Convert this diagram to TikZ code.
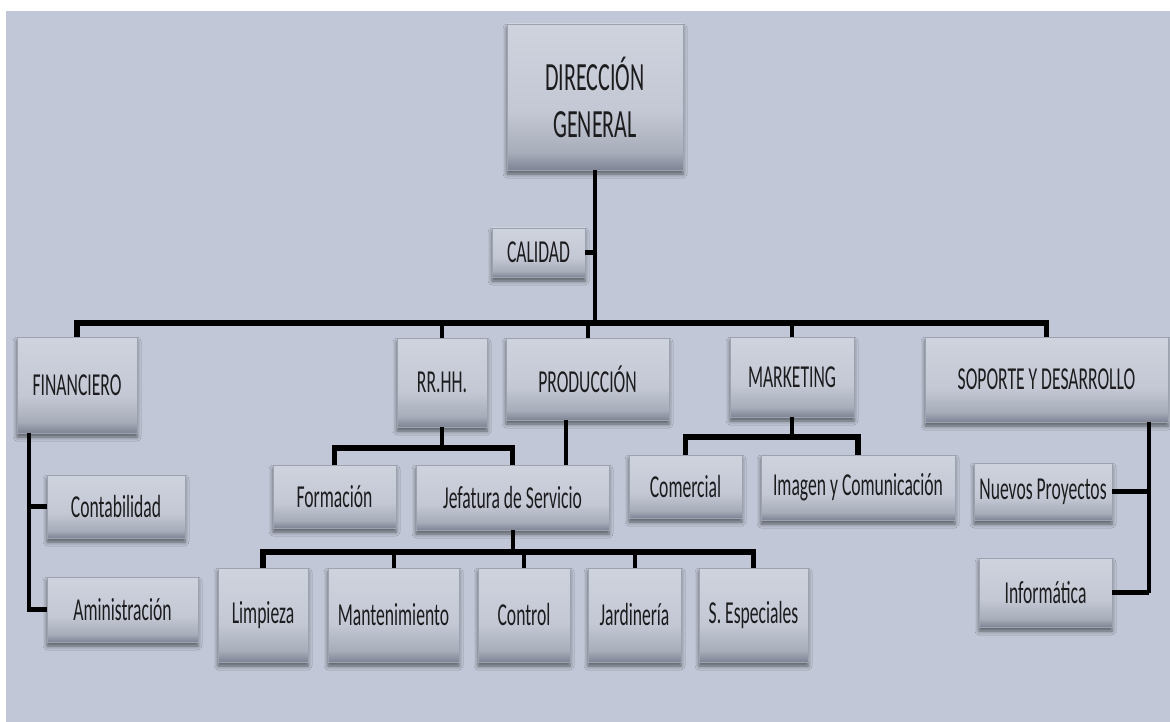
\documentclass[tikz,border=0pt]{standalone}
\usepackage{fontspec}
\setmainfont[FakeStretch=0.55]{Carlito}
\usetikzlibrary{shadows.blur}
\definecolor{bgc}{HTML}{C1C7D6}
\definecolor{bbot}{HTML}{7E8494}
\definecolor{bmid2}{HTML}{A8ADBA}
\definecolor{bmid}{HTML}{C3C8D4}
\definecolor{btop}{HTML}{CFD3DE}
\definecolor{bedge}{HTML}{9DA2B0}
\definecolor{txt}{HTML}{1C1C1E}
\pgfdeclareverticalshading{boxshade}{100bp}{color(0bp)=(bbot); color(25bp)=(bbot); color(31bp)=(bmid2); color(45bp)=(bmid); color(75bp)=(btop); color(100bp)=(btop)}
\newcommand\bx[7][]{\node[box,minimum width={(#5-#3)*1pt},minimum height={(#6-#4)*1pt},#1] (#2) at ({(#3+#5)/2},{(#4+#6)/2}) {#7};}
\begin{document}
\begin{tikzpicture}[x=1pt,y=-1pt,
  box/.style={shading=boxshade, draw=bedge, line width=0.6pt, inner sep=0pt, text=txt, align=center,
    font=\fontsize{32}{38}\selectfont,
    blur shadow={shadow xshift=0pt, shadow yshift=-4pt, shadow blur radius=4pt, shadow opacity=55}},
  conn/.style={line width=4pt, black},
  bus/.style={line width=5.5pt, black, line join=miter}]
\useasboundingbox (0,0) rectangle (1170,722);
\fill[white] (0,0) rectangle (1170,722);
\fill[bgc] (6,11) rectangle (1170,722);

\bx[font=\fontsize{40}{47}\selectfont]{dg}{507}{24}{683}{170}{DIRECCIÓN\\GENERAL}
\bx{cal}{492}{228}{585}{277}{CALIDAD}
\bx{fin}{17}{337}{137}{433}{FINANCIERO}
\bx{cont}{47}{475}{185}{538}{Contabilidad}
\bx{admin}{47}{577}{198}{642}{Aministración}
\bx{rrhh}{397}{338}{487}{427}{RR.HH.}
\bx{prod}{506}{338}{669}{420}{PRODUCCIÓN}
\bx{mkt}{730}{337}{854}{417}{MARKETING}
\bx{sop}{925}{337}{1168}{422}{SOPORTE Y DESARROLLO}
\bx{form}{273}{465}{396}{528}{Formación}
\bx{jef}{416}{465}{609}{530}{Jefatura de Servicio}
\bx{com}{629}{455}{742}{518}{Comercial}
\bx{img}{761}{455}{955}{520}{Imagen y Comunicación}
\bx{nue}{974}{463}{1112}{520}{Nuevos Proyectos}
\bx{inf}{979}{558}{1112}{627}{Informática}
\bx{limp}{218}{568}{308}{662}{Limpieza}
\bx{mant}{328}{568}{459}{662}{Mantenimiento}
\bx{ctrl}{478}{568}{570}{662}{Control}
\bx{jard}{588}{568}{681}{662}{Jardinería}
\bx{sesp}{699}{568}{808}{662}{S. Especiales}

\coordinate (mb) at (0,323);
\coordinate (rb) at (0,448);
\coordinate (jb) at (0,552);
\coordinate (kb) at (0,437);
\coordinate (fv) at (29,0);
\coordinate (sv) at (1149,0);
\coordinate (pv) at (566,0);

% main
\draw[conn] (dg.south) -- (dg.south |- mb);
\draw[conn] (cal.east) -- (cal.east -| dg.south);
\draw[bus] (fin.north) -- (fin.north |- mb) -- (sop.north |- mb) -- (sop.north);
\draw[conn] (rrhh.north) -- (rrhh.north |- mb);
\draw[conn] (prod.north) -- (prod.north |- mb);
\draw[conn] (mkt.north) -- (mkt.north |- mb);

% financiero
\draw[conn] (fin.south -| fv) -- (admin.west -| fv) -- (admin.west);
\draw[bus] (cont.west) -- (cont.west -| fv);
\draw[bus] (admin.west) -- (admin.west -| fv);

% rrhh
\draw[conn] (rrhh.south) -- (rrhh.south |- rb);
\draw[bus] (form.north) -- (form.north |- rb) -- (jef.north |- rb) -- (jef.north);

% produccion
\draw[conn] (prod.south -| pv) -- (jef.north -| pv);

% jefatura
\draw[conn] (jef.south) -- (jef.south |- jb);
\draw[bus] (limp.north) -- (limp.north |- jb) -- (sesp.north |- jb) -- (sesp.north);
\draw[conn] (mant.north) -- (mant.north |- jb);
\draw[conn] (ctrl.north) -- (ctrl.north |- jb);
\draw[conn] (jard.north) -- (jard.north |- jb);

% marketing
\draw[conn] (mkt.south) -- (mkt.south |- kb);
\draw[bus] (com.north) -- (com.north |- kb) -- (img.north |- kb) -- (img.north);

% soporte
\draw[conn] (sop.south -| sv) -- (inf.east -| sv);
\draw[bus] (nue.east) -- (nue.east -| sv);
\draw[bus] (inf.east) -- (inf.east -| sv);
\end{tikzpicture}
\end{document}
